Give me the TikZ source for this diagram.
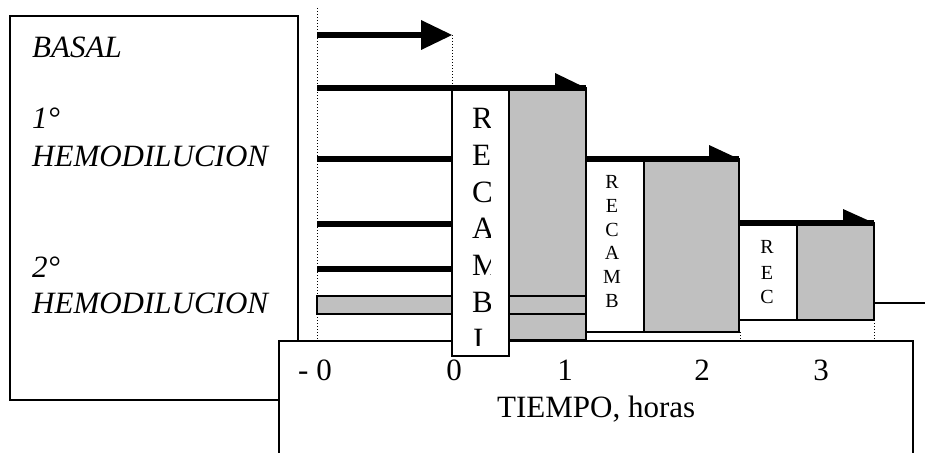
\documentclass[tikz,border=0pt]{standalone}
\usepackage{fontspec}
\setmainfont{Liberation Serif}
\definecolor{barfill}{HTML}{C0C0C0}
\tikzset{
  frame/.style={draw=black, line width=2pt},
  greybox/.style={draw=black, line width=2pt, fill=barfill},
  whitebox/.style={draw=black, line width=2pt, fill=white},
  heavy/.style={line width=6pt},
  guide/.style={dotted, line width=1pt},
  bigtxt/.style={font=\fontsize{31}{37}\selectfont, inner sep=0pt},
  bigital/.style={font=\fontsize{31}{37}\selectfont\itshape, inner sep=0pt, anchor=base west},
  smalltxt/.style={font=\fontsize{20}{24}\selectfont, inner sep=0pt, anchor=base},
  letter/.style={font=\fontsize{31}{37}\selectfont, inner sep=0pt, anchor=base west},
}
\begin{document}
\begin{tikzpicture}[x=1pt,y=-1pt]
\useasboundingbox (0,0) rectangle (925,452);
\clip (0,0) rectangle (925,452);

% left legend box
\draw[frame] (10,16) rectangle (298,400);
\node[bigital] (basal) at (32,57) {BASAL};
\node[bigital] (h1a) at (32,128) {1°};
\node[bigital] (h1b) at (32,166) {HEMODILUCION};
\node[bigital] (h2a) at (32,277) {2°};
\node[bigital] (h2b) at (32,313) {HEMODILUCION};

% guide lines
\coordinate (g0t) at (317,8);
\coordinate (g0b) at (317,341);
\draw[guide] (g0t) -- (g0b);
\coordinate (g1t) at (452,35);
\coordinate (g1b) at (452,88);
\draw[guide] (g1t) -- (g1b);

% arrow 1 (basal)
\coordinate (a1s) at (317,35);
\coordinate (a1h) at (421,35);
\coordinate (a1e) at (452,35);
\draw[heavy] (a1s) -- (a1h);
\fill (421,20) -- (a1e) -- (421,50) -- cycle;

% horizontal bars
\draw[heavy] (317,88) -- (586,88);
\draw[heavy] (317,159) -- (452,159);
\draw[heavy] (317,224) -- (452,224);
\draw[heavy] (317,269) -- (452,269);
\draw[greybox] (317,296) rectangle (452,314);

% grey box 1
\draw[greybox] (509,88) rectangle (586,340);
\draw[line width=2pt] (509,296) -- (586,296);
\draw[line width=2pt] (509,314) -- (586,314);

% axis box
\draw[whitebox] (279,341) rectangle (913,480);

% RECAMBI box
\draw[whitebox] (452,88) rectangle (509,356);
\begin{scope}
  \clip (453,89) rectangle (490.5,345.5);
  \node[letter] (r1) at (472,128) {R};
  \node[letter] (r2) at (472,165) {E};
  \node[letter] (r3) at (472,202) {C};
  \node[letter] (r4) at (472,238) {A};
  \node[letter] (r5) at (472,275) {M};
  \node[letter] (r6) at (472,312) {B};
  \node[letter] (r7) at (473,349) {I};
\end{scope}
\draw[heavy] (452,88) -- (586,88);
\fill (555,73) -- (555,88) -- (586,88) -- cycle;

% stage 2
\draw[whitebox] (586,159) rectangle (644,332);
\draw[greybox] (644,159) rectangle (739,332);
\node[smalltxt] (s1) at (612,188) {R};
\node[smalltxt] (s2) at (612,212) {E};
\node[smalltxt] (s3) at (612,236) {C};
\node[smalltxt] (s4) at (612,259) {A};
\node[smalltxt] (s5) at (612,283) {M};
\node[smalltxt] (s6) at (612,307) {B};
\draw[heavy] (586,159) -- (739,159);
\fill (709,145) -- (709,159) -- (739,159) -- cycle;

% stage 3
\draw[whitebox] (739,223) rectangle (797,320);
\draw[greybox] (797,223) rectangle (874,320);
\node[smalltxt] (t1) at (767,253) {R};
\node[smalltxt] (t2) at (767,279) {E};
\node[smalltxt] (t3) at (767,303) {C};
\draw[heavy] (739,223) -- (874,223);
\fill (843,209) -- (843,223) -- (874,223) -- cycle;

% tail line and small guides
\coordinate (tail) at (925,303);
\draw[line width=1.5pt] (874,303) -- (tail);
\draw[guide] (740,332) -- (740,341);
\draw[guide] (874,320) -- (874,341);

% axis labels
\node[bigtxt, anchor=base] (m0) at (315,380) {- 0};
\node[bigtxt, anchor=base] (x0) at (454,380) {0};
\node[bigtxt, anchor=base] (x1) at (565,380) {1};
\node[bigtxt, anchor=base] (x2) at (702,380) {2};
\node[bigtxt, anchor=base] (x3) at (821,380) {3};
\node[bigtxt, anchor=base west] (tt) at (497,417) {TIEMPO, horas};
\end{tikzpicture}
\end{document}
